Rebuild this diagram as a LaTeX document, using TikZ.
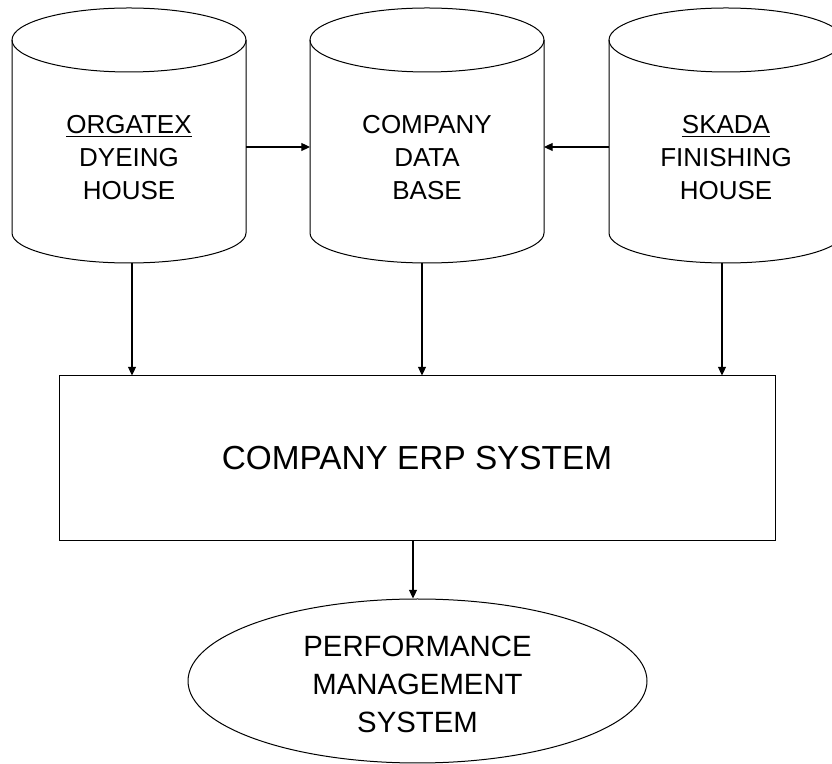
\documentclass[tikz,border=0pt]{standalone}
\usepackage{fontspec}
\setmainfont{Liberation Sans}
\usetikzlibrary{arrows.meta,shapes.geometric}
\tikzset{
  outline/.style={draw=black,line width=0.75pt},
  arr/.style={draw=black,line width=0.8pt,-{Triangle[length=6.5pt,width=6pt]}},
  cyltext/.style={inner sep=0pt,align=center,font={\fontsize{19.5}{24.75}\selectfont}},
}
\newcommand\dbcyl[1]{%
  \draw[outline] (#1,724) ellipse [x radius=117, y radius=32];
  \draw[outline] (#1-117,724) -- (#1-117,531) arc[start angle=180,end angle=360,x radius=117,y radius=30] -- (#1+117,724);
}
\begin{document}
\begin{tikzpicture}[x=0.75pt,y=0.75pt]
\useasboundingbox (0,0) rectangle (832,764);
\clip (0,0) rectangle (832,764);
\dbcyl{129}
\dbcyl{427}
\dbcyl{726}
\node[cyltext] (orgatex) at (129,606) {\underline{ORGATEX}\\DYEING\\HOUSE};
\node[cyltext] (companydb) at (427,606) {COMPANY\\DATA\\BASE};
\node[cyltext] (skada) at (726,606) {\underline{SKADA}\\FINISHING\\HOUSE};
\coordinate (o-e) at (246,617);
\coordinate (d-w) at (310,617);
\coordinate (d-e) at (544,617);
\coordinate (s-w) at (609,617);
\coordinate (o-s) at (132,501);
\coordinate (d-s) at (422,501);
\coordinate (s-s) at (722,501);
\node[outline,minimum width=537pt,minimum height=123.75pt,inner sep=0pt,
      font={\fontsize{25}{30}\selectfont}] (erp) at (417,305.5) {\raisebox{-1.5pt}{COMPANY ERP SYSTEM}};
\node[outline,ellipse,minimum width=344.25pt,minimum height=123pt,inner sep=0pt] (pm) at (417.5,83) {};
\node[inner sep=0pt,align=center,font={\fontsize{22}{28.5}\selectfont}] (pmtext) at (417.5,79.5) {PERFORMANCE\\MANAGEMENT\\SYSTEM};
\coordinate (e-s) at (413,223);
\draw[arr] (o-e) -- (d-w);
\draw[arr] (s-w) -- (d-e);
\draw[arr] (o-s) -- (o-s |- erp.north);
\draw[arr] (d-s) -- (d-s |- erp.north);
\draw[arr] (s-s) -- (s-s |- erp.north);
\draw[arr] (e-s) -- (e-s |- pm.north);
\end{tikzpicture}
\end{document}
